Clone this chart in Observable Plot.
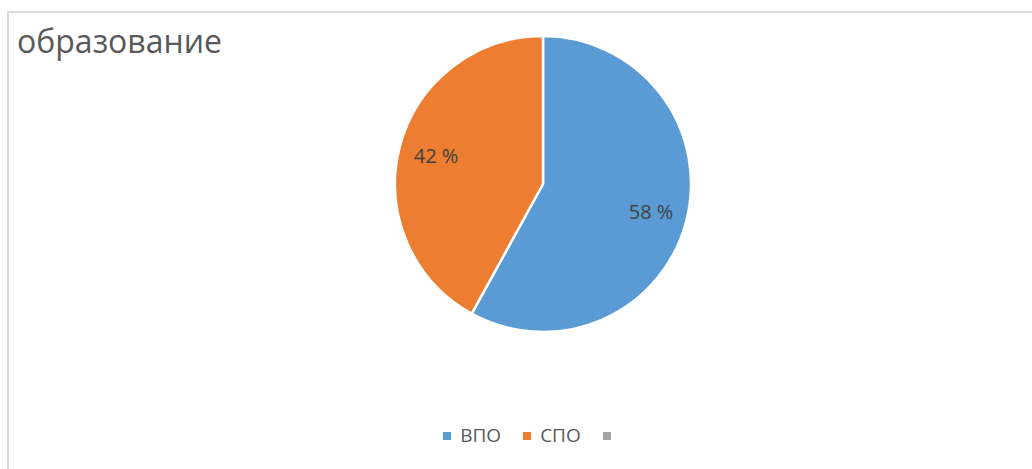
<!DOCTYPE html>
<html><head><meta charset="utf-8">
<script src="https://cdn.jsdelivr.net/npm/d3@7"></script>
<script src="https://cdn.jsdelivr.net/npm/@observablehq/plot@0.6"></script>
<style>
body{margin:0;width:1032px;height:469px;overflow:hidden;background:#fff;font-family:"Open Sans",sans-serif;position:relative}
#frame{position:absolute;left:7px;top:11px;width:1100px;height:600px;border:2px solid #d9d9d9;box-sizing:border-box}
#title{position:absolute;left:17px;top:25px;font-size:32px;line-height:32px;color:#595959;white-space:nowrap}
#chart{position:absolute;left:0;top:0}
#legend{position:absolute;top:426px;left:0;width:1063px;display:flex;justify-content:center;align-items:center;font-size:19px;line-height:19px;color:#595959}
.item{display:flex;align-items:center;margin:0 11px}
.sw{width:8px;height:8px;margin-right:9px}
</style>
</head><body>
<div id="frame"></div>
<div id="chart"></div>
<div id="title">образование</div>
<div id="legend"></div>
<script>
const categories = ["ВПО", "СПО"];
const values = [58, 42];
const labels = ["58 %", "42 %"];
const legendNames = ["ВПО", "СПО", ""];
const colors = ["#5B9BD5", "#ED7D31", "#A5A5A5"];

const arcs = d3.pie().sort(null).value(d => d)(values);
const table = arcs.map((a, i) => {
  const mid = (a.startAngle + a.endAngle) / 2;
  return {category: categories[i], value: values[i], label: labels[i],
          lx: 0.75 * Math.sin(mid), ly: 0.75 * Math.cos(mid), arc: a, color: colors[i]};
});

function slices(index, scales, vals, dims) {
  const cx = scales.x(0), cy = scales.y(0), r = Math.abs(scales.x(1) - scales.x(0));
  const arc = d3.arc().innerRadius(0).outerRadius(r);
  const g = d3.create("svg:g").attr("transform", `translate(${cx},${cy})`);
  g.selectAll("path").data(table).join("path")
    .attr("d", d => arc(d.arc))
    .attr("fill", d => d.color)
    .attr("stroke", "#fff").attr("stroke-width", 2.5).attr("stroke-linejoin", "round");
  return g.node();
}

const plot = Plot.plot({
  width: 1032, height: 469, margin: 0,
  x: {domain: [-1, 1], range: [395, 691], axis: null},
  y: {domain: [-1, 1], range: [332, 36], axis: null},
  style: {fontFamily: "Open Sans", background: "transparent"},
  marks: [
    slices,
    Plot.text(table, {x: "lx", y: "ly", text: "label", fill: "#404040", fontSize: 20})
  ]
});
document.getElementById("chart").append(plot);

const leg = d3.select("#legend");
legendNames.forEach((n, i) => {
  const it = leg.append("div").attr("class", "item");
  it.append("div").attr("class", "sw").style("background", colors[i]);
  if (n) it.append("span").text(n);
});
</script>
</body></html>
